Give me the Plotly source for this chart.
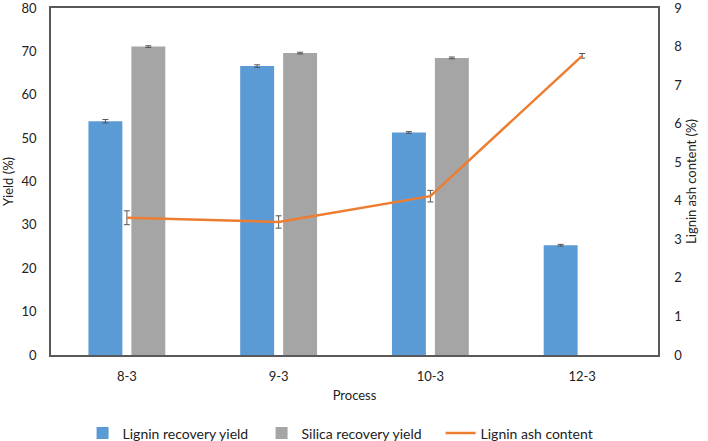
import plotly.graph_objects as go

processes = ["8-3", "9-3", "10-3", "12-3"]
lignin_yield = [53.9, 66.6, 51.3, 25.3]
lignin_yield_err = [0.4, 0.3, 0.2, 0.2]
silica_yield = [71.1, 69.6, 68.5, None]
silica_yield_err = [0.2, 0.2, 0.2, None]
ash_content = [3.56, 3.45, 4.12, 7.76]
ash_content_err = [0.18, 0.16, 0.15, 0.06]

FONT = "Lato"
TITLE_FONT = dict(family=FONT, size=13, color="#222222")
fig = go.Figure()
fig.add_trace(go.Bar(
    x=processes, y=lignin_yield, name="Lignin recovery yield",
    marker=dict(color="#5B9BD5", line=dict(width=0)),
    error_y=dict(type="data", array=lignin_yield_err, color="#555555", thickness=1, width=3),
))
fig.add_trace(go.Bar(
    x=processes, y=silica_yield, name="Silica recovery yield",
    marker=dict(color="#A5A5A5", line=dict(width=0)),
    error_y=dict(type="data", array=silica_yield_err, color="#555555", thickness=1, width=3),
))
fig.add_trace(go.Scatter(
    x=processes, y=ash_content, name="Lignin ash content", yaxis="y2",
    mode="lines", line=dict(color="#ED7D31", width=2.5),
    error_y=dict(type="data", array=ash_content_err, color="#555555", thickness=1, width=3),
))

fig.update_layout(
    width=708, height=441,
    margin=dict(l=51, r=50, t=8, b=86, autoexpand=False),
    paper_bgcolor="white", plot_bgcolor="white",
    font=dict(family=FONT, size=13, color="#222222"),
    barmode="group", bargap=0.434, bargroupgap=0.21,
    showlegend=True,
    legend=dict(orientation="h", x=0.052, xanchor="left", y=-0.18, yanchor="top",
                font=dict(size=14), traceorder="normal", entrywidth=134,
                entrywidthmode="pixels"),
    xaxis=dict(
        type="category", automargin=False,
        title=dict(text="Process", standoff=8, font=TITLE_FONT),
        showline=True, linecolor="#595959", linewidth=1.5, mirror=True,
        showgrid=False, ticks="", ticklabelstandoff=9,
    ),
    yaxis=dict(
        automargin=False, ticklabeloverflow="allow",
        title=dict(text="Yield (%)", standoff=8, font=TITLE_FONT),
        range=[0, 80], dtick=10, showgrid=False,
        showline=True, linecolor="#595959", linewidth=1.5, mirror=True,
        ticks="", ticklabelstandoff=10, zeroline=False,
    ),
    yaxis2=dict(
        automargin=False, ticklabeloverflow="allow",
        title=dict(text="Lignin ash content (%)", standoff=6, font=TITLE_FONT),
        range=[0, 9], dtick=1, overlaying="y", side="right", showgrid=False,
        showline=True, linecolor="#595959", linewidth=1.5,
        ticks="", ticklabelstandoff=12, zeroline=False,
    ),
)

fig.write_html("out.html", config={"displayModeBar": False},
               post_script="document.body.style.margin='0';")
